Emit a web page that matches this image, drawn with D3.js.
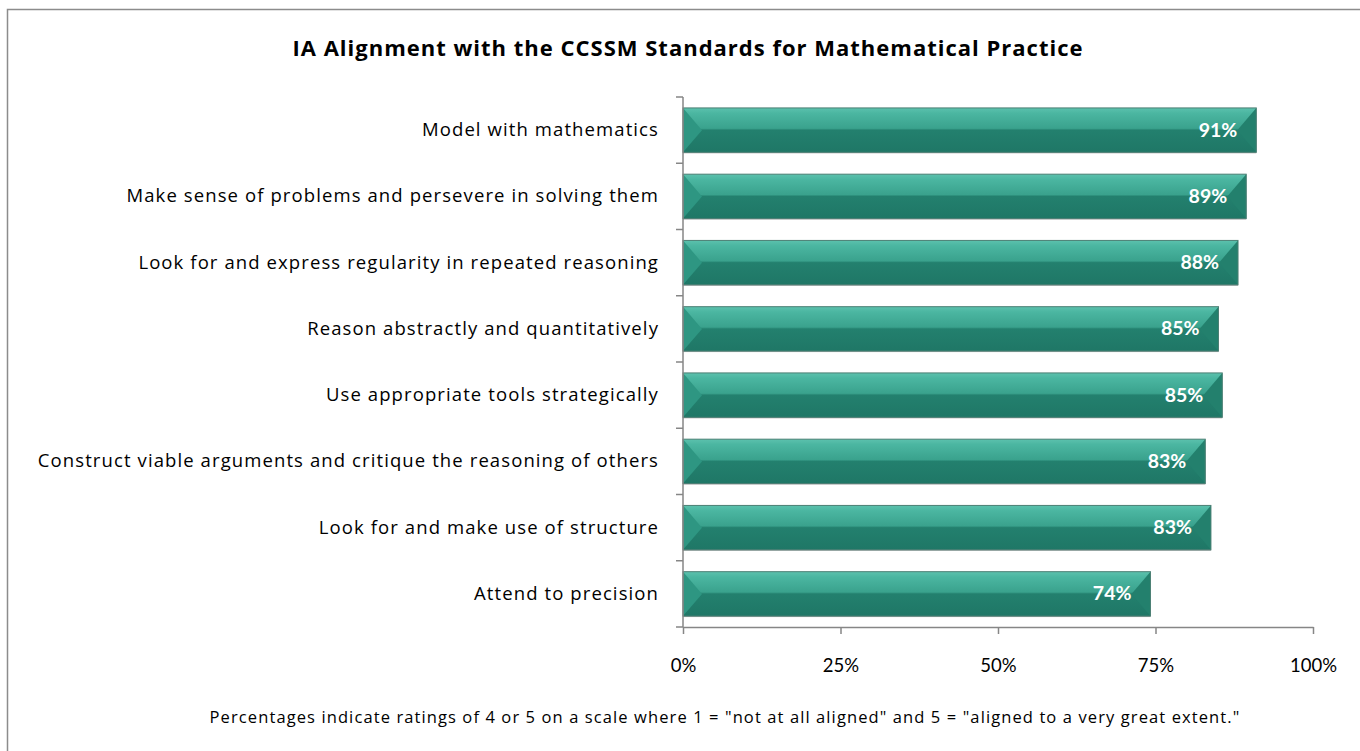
<!DOCTYPE html>
<html>
<head>
<meta charset="utf-8">
<script src="https://cdn.jsdelivr.net/npm/d3@7"></script>
<style>
	body { margin: 0; background: #fff; }
	svg { display: block; font-family: "Open Sans", Lato, sans-serif; }
	.axis path, .axis line { stroke: #868686; stroke-width: 1.5; }
</style>
</head>
<body>
<svg id="chart"></svg>
<script>
// Chart data
var categories = [
	"Model with mathematics",
	"Make sense of problems and persevere in solving them",
	"Look for and express regularity in repeated reasoning",
	"Reason abstractly and quantitatively",
	"Use appropriate tools strategically",
	"Construct viable arguments and critique the reasoning of others",
	"Look for and make use of structure",
	"Attend to precision"
];
var values = [91.0, 89.4, 88.1, 85.0, 85.6, 82.9, 83.8, 74.2];
var valueLabels = ["91%", "89%", "88%", "85%", "85%", "83%", "83%", "74%"];
var xTicks = [0, 25, 50, 75, 100];

var width = 1360,
	height = 751,
	margin = {top: 97, right: 47, bottom: 124, left: 683};

var svg = d3.select("#chart")
	.attr("width", width)
	.attr("height", height);

// gradients for the bevelled bars
var defs = svg.append("defs");
var grad = defs.append("linearGradient")
	.attr("id", "barFill")
	.attr("x1", 0).attr("y1", 0).attr("x2", 0).attr("y2", 1);
[["0%", "#5cc1ad"], ["12%", "#4bb6a1"], ["46%", "#3aa28d"], ["50%", "#23806e"], ["100%", "#1f7766"]]
	.forEach(function(s){ grad.append("stop").attr("offset", s[0]).attr("stop-color", s[1]); });

// chart frame (only top/left edge visible)
svg.append("rect")
	.attr("x", 7.5).attr("y", 9.5)
	.attr("width", width + 20).attr("height", height + 20)
	.attr("fill", "none")
	.attr("stroke", "#8c8c8c")
	.attr("stroke-width", 1.5);

var x = d3.scaleLinear()
	.domain([0, 100])
	.range([margin.left, width - margin.right]);

var y = d3.scaleBand()
	.domain(categories)
	.range([margin.top, height - margin.bottom])
	.paddingInner(0.33)
	.paddingOuter(0.165);

// Title
svg.append("text")
	.attr("x", 688)
	.attr("y", 56)
	.attr("text-anchor", "middle")
	.attr("font-size", 22)
	.attr("letter-spacing", 1)
	.attr("font-weight", "bold")
	.attr("fill", "#000")
	.text("IA Alignment with the CCSSM Standards for Mathematical Practice");

// Bars
var bars = svg.append("g")
	.selectAll("g")
	.data(values)
	.enter()
		.append("g");

var bev = 19;

bars.append("rect")
	.attr("x", x(0))
	.attr("y", function(d, i){ return y(categories[i]) + 1; })
	.attr("width", function(d){ return x(d) - x(0); })
	.attr("height", y.bandwidth())
	.attr("fill", "#6a6a6a")
	.attr("opacity", 0.55);

bars.append("rect")
	.attr("x", x(0))
	.attr("y", function(d, i){ return y(categories[i]); })
	.attr("width", function(d){ return x(d) - x(0); })
	.attr("height", y.bandwidth())
	.attr("fill", "url(#barFill)");

// left bevel
bars.append("path")
	.attr("d", function(d, i){
		var x0 = x(0), y0 = y(categories[i]), h = y.bandwidth();
		return "M" + x0 + "," + y0 + "L" + (x0 + bev) + "," + (y0 + h / 2) +
			"L" + x0 + "," + (y0 + h) + "Z";
	})
	.attr("fill", "#2e9682");

// right bevel
bars.append("path")
	.attr("d", function(d, i){
		var x1 = x(d), y0 = y(categories[i]), h = y.bandwidth();
		return "M" + x1 + "," + y0 + "L" + (x1 - bev) + "," + (y0 + h / 2) +
			"L" + x1 + "," + (y0 + h) + "Z";
	})
	.attr("fill", "#23806d");

bars.append("rect")
	.attr("x", x(0))
	.attr("y", function(d, i){ return y(categories[i]); })
	.attr("width", function(d){ return x(d) - x(0); })
	.attr("height", y.bandwidth())
	.attr("fill", "none")
	.attr("stroke", "#4c7f74")
	.attr("stroke-width", 1);

// value labels
bars.append("text")
	.attr("x", function(d){ return x(d) - 19; })
	.attr("y", function(d, i){ return y(categories[i]) + y.bandwidth() / 2 + 6.5; })
	.attr("text-anchor", "end")
	.attr("font-family", "Lato, sans-serif")
	.attr("font-size", 19.5)
	.attr("font-weight", "bold")
	.attr("fill", "#fff")
	.text(function(d, i){ return valueLabels[i]; });

// Category axis
var yAxis = svg.append("g")
	.attr("class", "axis")
	.attr("transform", "translate(" + x(0) + ",0)")
	.call(d3.axisLeft(y).tickSize(0).tickFormat(""));

yAxis.select(".domain").attr("d", "M0," + margin.top + "V" + (height - margin.bottom));

// category tick marks between bands
var bounds = d3.range(categories.length + 1).map(function(i){
	return margin.top + i * y.step();
});
yAxis.selectAll(".sep")
	.data(bounds)
	.enter()
		.append("line")
			.attr("x1", -7).attr("x2", 0)
			.attr("y1", function(d){ return d; })
			.attr("y2", function(d){ return d; })
			.attr("stroke", "#868686")
			.attr("stroke-width", 1.5);

svg.append("g")
	.selectAll("text")
	.data(categories)
	.enter()
		.append("text")
			.attr("x", 659)
			.attr("y", function(d){ return y(d) + y.bandwidth() / 2 + 6; })
			.attr("text-anchor", "end")
			.attr("font-size", 18.5)
			.attr("letter-spacing", 1.1)
			.attr("fill", "#000")
			.text(function(d){ return d; });

// Value axis
var xAxis = svg.append("g")
	.attr("class", "axis")
	.attr("transform", "translate(0," + (height - margin.bottom) + ")")
	.call(d3.axisBottom(x).tickValues(xTicks).tickSize(7).tickSizeOuter(0)
		.tickFormat(function(d){ return d + "%"; }));

xAxis.selectAll("text")
	.attr("dy", 0)
	.attr("y", 45)
	.attr("font-size", 18.5)
	.attr("font-family", "Lato, sans-serif")
	.attr("fill", "#000");

// Footnote
svg.append("text")
	.attr("x", 725)
	.attr("y", 723)
	.attr("text-anchor", "middle")
	.attr("font-size", 16.5)
	.attr("letter-spacing", 1.1)
	.attr("fill", "#000")
	.text("Percentages indicate ratings of 4 or 5 on a scale where 1 = \"not at all aligned\" and 5 = \"aligned to a very great extent.\"");
</script>
</body>
</html>
